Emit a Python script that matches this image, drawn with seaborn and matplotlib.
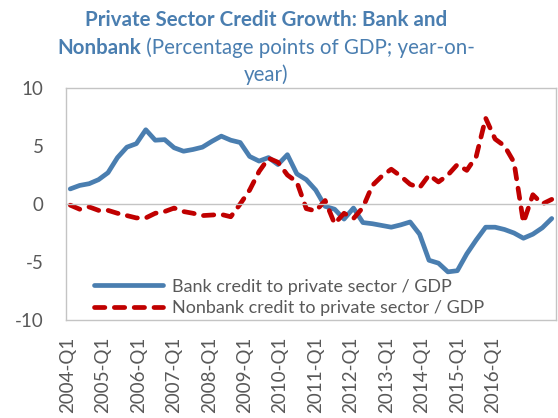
import numpy as np
import pandas as pd
import matplotlib
matplotlib.use("Agg")
import matplotlib.pyplot as plt
import seaborn as sns

# ---- data (quarterly, 2004-Q1 .. 2016-Q4) ----
quarters = [f"{y}-Q{q}" for y in range(2004, 2017) for q in range(1, 5)]

bank = [1.3, 1.6, 1.75, 2.1, 2.7, 4.0, 4.9, 5.2, 6.4, 5.5, 5.55, 4.85, 4.55,
        4.7, 4.9, 5.4, 5.85, 5.5, 5.3, 4.1, 3.7, 4.0, 3.4, 4.25, 2.6, 2.1,
        1.2, -0.2, -0.45, -1.3, -0.35, -1.6, -1.7, -1.85, -2.0, -1.8, -1.55,
        -2.6, -4.85, -5.1, -5.85, -5.75, -4.3, -3.1, -2.0, -2.0, -2.2, -2.5,
        -2.95, -2.6, -2.05, -1.25]

nonbank = [-0.1, -0.45, -0.25, -0.55, -0.55, -0.8, -1.0, -1.2, -1.2, -0.8,
           -0.65, -0.35, -0.65, -0.8, -1.0, -0.95, -0.9, -1.1, 0.0, 1.2, 2.8,
           3.95, 3.6, 2.5, 1.9, -0.4, -0.6, 0.3, -1.7, -0.8, -1.25, -0.3, 1.6,
           2.4, 3.0, 2.4, 1.7, 1.4, 2.5, 1.9, 2.5, 3.4, 2.9, 4.1, 7.4, 5.6,
           5.0, 3.6, -1.6, 0.8, 0.0, 0.4]

series_names = ["Bank credit to private sector / GDP",
                "Nonbank credit to private sector / GDP"]
year_labels = ["2004-Q1", "2005-Q1", "2006-Q1", "2007-Q1", "2008-Q1",
               "2009-Q1", "2010-Q1", "2011-Q1", "2012-Q1", "2013-Q1",
               "2014-Q1", "2015-Q1", "2016-Q1"]
y_ticks = [-10, -5, 0, 5, 10]

title_bold_1 = "Private Sector Credit Growth: Bank and"
title_bold_2 = "Nonbank"
title_norm_2 = " (Percentage points of GDP; year-on-"
title_norm_3 = "year)"

# ---- build long table ----
n = len(quarters)
df = pd.DataFrame({
    "q": list(range(n)) * 2,
    "value": bank + nonbank,
    "series": [series_names[0]] * n + [series_names[1]] * n,
})

BLUE = "#4a7eb0"
RED = "#c00000"
GRAY_TXT = "#595959"
GRAY_LN = "#c4c4c4"

sns.set_theme(style="white")
plt.rcParams["font.family"] = ["Lato", "DejaVu Sans"]

W, H = 558, 418
fig = plt.figure(figsize=(W / 100, H / 100), dpi=100)
ax = fig.add_axes([66 / W, 1 - 320 / H, 490 / W, 232 / H])

sns.lineplot(data=df, x="q", y="value", hue="series", style="series",
             palette={series_names[0]: BLUE, series_names[1]: RED},
             dashes={series_names[0]: "", series_names[1]: (2.2, 2.0)},
             linewidth=3.4, ax=ax, legend=False)

for ln in ax.get_lines():
    ln.set_solid_capstyle("round")
    ln.set_dash_capstyle("round")
    ln.set_solid_joinstyle("round")
    ln.set_dash_joinstyle("round")

ax.set_xlim(-0.45, n - 1 + 0.45)
ax.set_ylim(-10, 10)
ax.set_xlabel("")
ax.set_ylabel("")

# category-axis crossing at zero with tick marks every 3 quarters
ax.spines["bottom"].set_position(("data", 0))
for s in ["bottom", "top", "left", "right"]:
    ax.spines[s].set_color(GRAY_LN)
    ax.spines[s].set_linewidth(1.0)
ax.set_xticks(np.arange(2.5, n - 1, 3))
ax.tick_params(axis="x", direction="in", length=6, color=GRAY_LN,
               labelbottom=False, width=1.0)

ax.set_yticks(y_ticks)
ax.set_yticklabels([str(v) for v in y_ticks])
ax.tick_params(axis="y", direction="in", length=5, color=GRAY_LN,
               labelsize=13.5, labelcolor=GRAY_TXT, pad=16)

# bottom frame line carrying the rotated category labels
sec = ax.secondary_xaxis("bottom")
label_pos = np.arange(len(year_labels)) * 3.757 - 0.32
sec.set_xticks(label_pos)
sec.set_xticklabels(year_labels, rotation=90)
sec.tick_params(length=0, pad=12, labelsize=13.5, labelcolor=GRAY_TXT)
sec.spines["bottom"].set_color(GRAY_LN)
sec.spines["bottom"].set_linewidth(1.0)

leg = ax.legend(ax.get_lines(), series_names, loc="lower left",
                bbox_to_anchor=(0.05, 0.0), frameon=False,
                fontsize=13, handlelength=3.8, handletextpad=0.5,
                labelspacing=0.32, borderaxespad=0.0, borderpad=0.2)
for t in leg.get_texts():
    t.set_color(GRAY_TXT)

# ---- title ----
cx = 266
tsize = 14.8
fig.text(cx / W, 1 - 20 / H, title_bold_1, ha="center", va="center",
         fontsize=tsize, fontweight="bold", color=BLUE)
t_a = fig.text(0, 1 - 48 / H, title_bold_2, ha="left", va="center",
               fontsize=tsize, fontweight="bold", color=BLUE)
t_b = fig.text(0, 1 - 48 / H, title_norm_2, ha="left", va="center",
               fontsize=tsize, color=BLUE)
r = fig.canvas.get_renderer()
w_a = t_a.get_window_extent(r).width
w_b = t_b.get_window_extent(r).width
x0 = cx - (w_a + w_b) / 2
t_a.set_x(x0 / W)
t_b.set_x((x0 + w_a) / W)
fig.text(cx / W, 1 - 75 / H, title_norm_3, ha="center", va="center",
         fontsize=tsize, color=BLUE)

fig.savefig("out.png", dpi=100)
